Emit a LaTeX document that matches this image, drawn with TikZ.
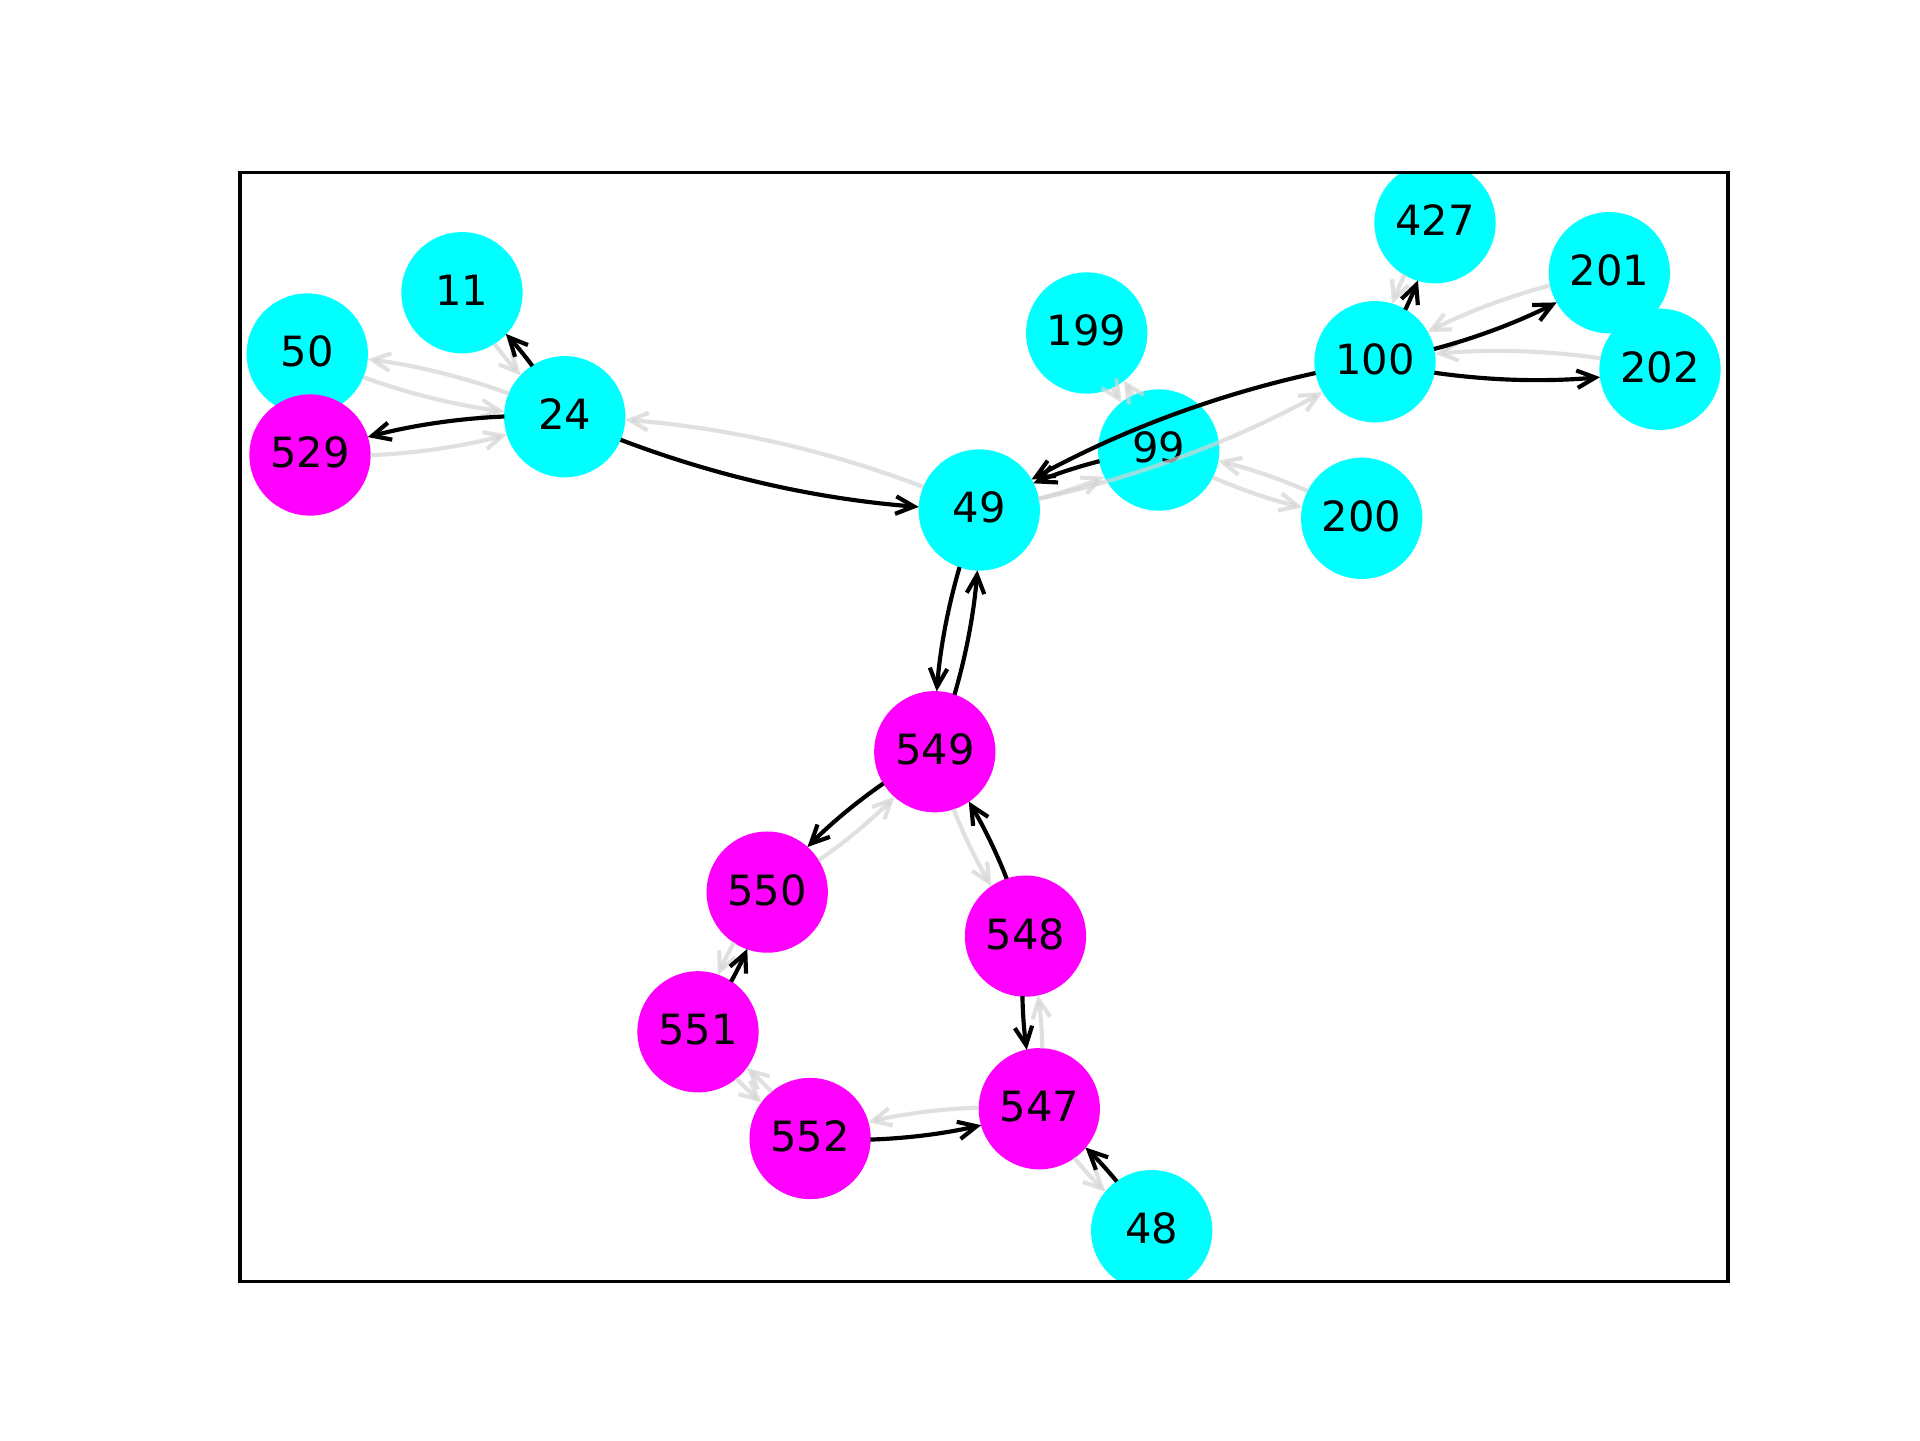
\documentclass[tikz,border=0pt]{standalone}
\usepackage{fontspec}
\setmainfont{DejaVu Sans}
\usetikzlibrary{calc,arrows.meta}
\definecolor{lgray}{RGB}{211,211,211}
\definecolor{cyn}{RGB}{0,255,255}
\definecolor{mgt}{RGB}{255,0,255}
\tikzset{
  vnode/.style={circle, inner sep=0pt, minimum size=29.1pt, text depth=1.2pt, font=\fontsize{10}{12}\selectfont},
  cy/.style={vnode, fill=cyn},
  mg/.style={vnode, fill=mgt},
  blk/.style={-{Straight Barb[length=4.4pt,width=4.2pt]}, line width=1pt, draw=black},
  gry/.style={-{Straight Barb[length=4.4pt,width=4.2pt]}, line width=1pt, draw=lgray, draw opacity=0.7},
  frame/.style={line width=0.8pt, draw=black},
}
% arc3-style edge (rad=0.1) between two node centres, clipped at the node radius
\newcommand{\myedge}[3]{%
  \pgfpointanchor{#2}{center}\pgfgetlastxy{\eAx}{\eAy}%
  \pgfpointanchor{#3}{center}\pgfgetlastxy{\eBx}{\eBy}%
  \pgfmathsetmacro{\eDx}{\eBx-\eAx}%
  \pgfmathsetmacro{\eDy}{\eBy-\eAy}%
  \pgfmathsetmacro{\eLen}{veclen(\eDx,\eDy)}%
  \pgfmathsetmacro{\eTa}{14.6/(1.0198*\eLen)}%
  \pgfmathsetmacro{\eTb}{1-\eTa}%
  \pgfmathsetmacro{\eCx}{(\eAx+\eBx)/2+0.1*\eDy}%
  \pgfmathsetmacro{\eCy}{(\eAy+\eBy)/2-0.1*\eDx}%
  \pgfmathsetmacro{\eSx}{(1-\eTa)*(1-\eTa)*\eAx+2*\eTa*(1-\eTa)*\eCx+\eTa*\eTa*\eBx}%
  \pgfmathsetmacro{\eSy}{(1-\eTa)*(1-\eTa)*\eAy+2*\eTa*(1-\eTa)*\eCy+\eTa*\eTa*\eBy}%
  \pgfmathsetmacro{\eEx}{(1-\eTb)*(1-\eTb)*\eAx+2*\eTb*(1-\eTb)*\eCx+\eTb*\eTb*\eBx}%
  \pgfmathsetmacro{\eEy}{(1-\eTb)*(1-\eTb)*\eAy+2*\eTb*(1-\eTb)*\eCy+\eTb*\eTb*\eBy}%
  \pgfmathsetmacro{\eKx}{\eTa*\eTb*(\eAx+\eBx)+(\eTa*\eTa+\eTb*\eTb)*\eCx}%
  \pgfmathsetmacro{\eKy}{\eTa*\eTb*(\eAy+\eBy)+(\eTa*\eTa+\eTb*\eTb)*\eCy}%
  \coordinate (es) at (\eSx pt,\eSy pt);
  \coordinate (ee) at (\eEx pt,\eEy pt);
  \coordinate (ek) at (\eKx pt,\eKy pt);
  \draw[#1] (es) .. controls ($(es)!2/3!(ek)$) and ($(ee)!2/3!(ek)$) .. (ee);
}
\begin{document}
\begin{tikzpicture}[x=0.24pt,y=-0.24pt]
\useasboundingbox (0,0) rectangle (1920,1440);
\begin{scope}
\clip (240,172.8) rectangle (1728,1281.6);
\node[cy] (n11) at (462,292.7) {11};
\node[cy] (n50) at (307.3,354) {50};
\node[mg] (n529) at (310,455) {529};
\node[cy] (n24) at (564.7,416.7) {24};
\node[cy] (n49) at (979.3,510) {49};
\node[cy] (n199) at (1086.7,333) {199};
\node[cy] (n99) at (1158.7,450) {99};
\node[cy] (n200) at (1361.7,518.3) {200};
\node[cy] (n100) at (1375,361.7) {100};
\node[cy] (n427) at (1435,222.7) {427};
\node[cy] (n201) at (1609.3,272.7) {201};
\node[cy] (n202) at (1660,369.3) {202};
\node[mg] (n549) at (934.8,751.7) {549};
\node[mg] (n550) at (767.2,892.1) {550};
\node[mg] (n548) at (1025.5,936.1) {548};
\node[mg] (n551) at (698,1031.8) {551};
\node[mg] (n552) at (810.1,1138.5) {552};
\node[mg] (n547) at (1039.3,1108.7) {547};
\node[cy] (n48) at (1151.7,1230.6) {48};
\end{scope}
% light grey edges
\myedge{gry}{n24}{n50}
\myedge{gry}{n50}{n24}
\myedge{gry}{n529}{n24}
\myedge{gry}{n11}{n24}
\myedge{gry}{n49}{n24}
\myedge{gry}{n49}{n99}
\myedge{gry}{n49}{n100}
\myedge{gry}{n99}{n199}
\myedge{gry}{n199}{n99}
\myedge{gry}{n99}{n200}
\myedge{gry}{n200}{n99}
\myedge{gry}{n427}{n100}
\myedge{gry}{n201}{n100}
\myedge{gry}{n202}{n100}
\myedge{gry}{n549}{n548}
\myedge{gry}{n550}{n549}
\myedge{gry}{n550}{n551}
\myedge{gry}{n551}{n552}
\myedge{gry}{n552}{n551}
\myedge{gry}{n547}{n552}
\myedge{gry}{n547}{n548}
\myedge{gry}{n547}{n48}
% black edges
\myedge{blk}{n24}{n11}
\myedge{blk}{n24}{n529}
\myedge{blk}{n24}{n49}
\myedge{blk}{n49}{n549}
\myedge{blk}{n549}{n49}
\myedge{blk}{n100}{n49}
\myedge{blk}{n99}{n49}
\myedge{blk}{n100}{n427}
\myedge{blk}{n100}{n201}
\myedge{blk}{n100}{n202}
\myedge{blk}{n549}{n550}
\myedge{blk}{n548}{n549}
\myedge{blk}{n551}{n550}
\myedge{blk}{n548}{n547}
\myedge{blk}{n552}{n547}
\myedge{blk}{n48}{n547}
\draw[frame] (240,172.8) rectangle (1728,1281.6);
\end{tikzpicture}
\end{document}
